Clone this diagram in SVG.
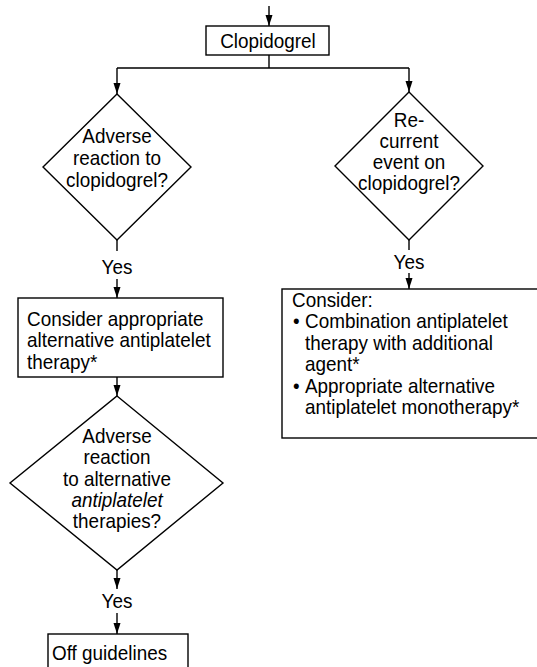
<svg xmlns="http://www.w3.org/2000/svg" width="537" height="667" viewBox="0 0 537 667">
  <defs>
    <marker id="head" markerUnits="userSpaceOnUse" markerWidth="12" markerHeight="8" refX="11" refY="4" orient="auto" viewBox="0 0 12 8">
      <path d="M0,0.5 L11,4 L0,7.5 z" fill="#000"/>
    </marker>
  </defs>
  <style>
    .box { fill: #fff; stroke: #000; stroke-width: 1.4; }
    .dia { fill: #fff; stroke: #000; stroke-width: 1.4; stroke-linejoin: miter; }
    .conn { fill: none; stroke: #000; stroke-width: 1.4; }
    .arr { marker-end: url(#head); }
    /* slightly condensed sans: tall glyphs, narrow set width */
    text { font-family: "Liberation Sans", Arial, sans-serif; font-size: 21px; fill: #000;
           transform-box: fill-box; transform: scaleX(0.9); }
    .c { text-anchor: middle; transform-origin: 50% 50%; }
    .l { transform-origin: 0 50%; }
    .it { font-style: italic; }
  </style>

  <rect width="537" height="667" fill="#fff"/>

  <!-- connectors -->
  <g id="connectors">
    <path class="conn arr" d="M269,6 V26"/>
    <path class="conn" d="M269,55 V68 M117,68 H409"/>
    <path class="conn arr" d="M117,68 V94"/>
    <path class="conn arr" d="M409,68 V92"/>
    <!-- left branch -->
    <path class="conn" d="M117,240 V251"/>
    <text class="c" x="117" y="274">Yes</text>
    <path class="conn arr" d="M117,279 V298"/>
    <path class="conn arr" d="M117,377 V396"/>
    <path class="conn arr" d="M117,570 V589"/>
    <text class="c" x="117" y="608">Yes</text>
    <path class="conn arr" d="M117,613 V634"/>
    <!-- right branch -->
    <path class="conn" d="M409,240 V250"/>
    <text class="c" x="409" y="269">Yes</text>
    <path class="conn arr" d="M409,273 V289"/>
  </g>

  <!-- start: clopidogrel -->
  <g id="clopidogrel">
    <rect class="box" x="206" y="26" width="123" height="29"/>
    <text class="c" x="268" y="48">Clopidogrel</text>
  </g>

  <!-- decision: adverse reaction -->
  <g id="adverse-reaction">
    <polygon class="dia" points="117,94 191,167 117,240 43,167"/>
    <text class="c" x="117" y="143">Adverse</text>
    <text class="c" x="117" y="165">reaction to</text>
    <text class="c" x="117" y="187">clopidogrel?</text>
  </g>

  <!-- decision: recurrent event -->
  <g id="recurrent-event">
    <polygon class="dia" points="409,92 483,166 409,240 335,166"/>
    <text class="c" x="409" y="127">Re-</text>
    <text class="c" x="409" y="148">current</text>
    <text class="c" x="409" y="169">event on</text>
    <text class="c" x="409" y="190">clopidogrel?</text>
  </g>

  <!-- action: alternative therapy -->
  <g id="alternative-therapy">
    <rect class="box" x="18" y="298" width="205" height="79"/>
    <text class="l" x="27" y="326">Consider appropriate</text>
    <text class="l" x="27" y="347.5">alternative antiplatelet</text>
    <text class="l" x="27" y="369">therapy*</text>
  </g>

  <!-- action: combination / monotherapy -->
  <g id="consider-options">
    <rect class="box" x="282" y="289" width="262" height="149"/>
    <text class="l" x="292" y="307">Consider:</text>
    <text class="l" x="293" y="328.5">•</text>
    <text class="l" x="305" y="328.5">Combination antiplatelet</text>
    <text class="l" x="305" y="350">therapy with additional</text>
    <text class="l" x="305" y="371.5">agent*</text>
    <text class="l" x="293" y="393">•</text>
    <text class="l" x="305" y="393">Appropriate alternative</text>
    <text class="l" x="305" y="414.5">antiplatelet monotherapy*</text>
  </g>

  <!-- decision: reaction to alternatives -->
  <g id="adverse-alternative">
    <polygon class="dia" points="117,396 223,483 117,570 10,483"/>
    <text class="c" x="117" y="443">Adverse</text>
    <text class="c" x="117" y="464.5">reaction</text>
    <text class="c" x="117" y="486">to alternative</text>
    <text class="c it" x="117" y="507">antiplatelet</text>
    <text class="c" x="117" y="528.5">therapies?</text>
  </g>

  <!-- end: off guidelines -->
  <g id="off-guidelines">
    <rect class="box" x="48" y="634" width="140" height="40"/>
    <text class="l" x="52" y="660">Off guidelines</text>
  </g>
</svg>
